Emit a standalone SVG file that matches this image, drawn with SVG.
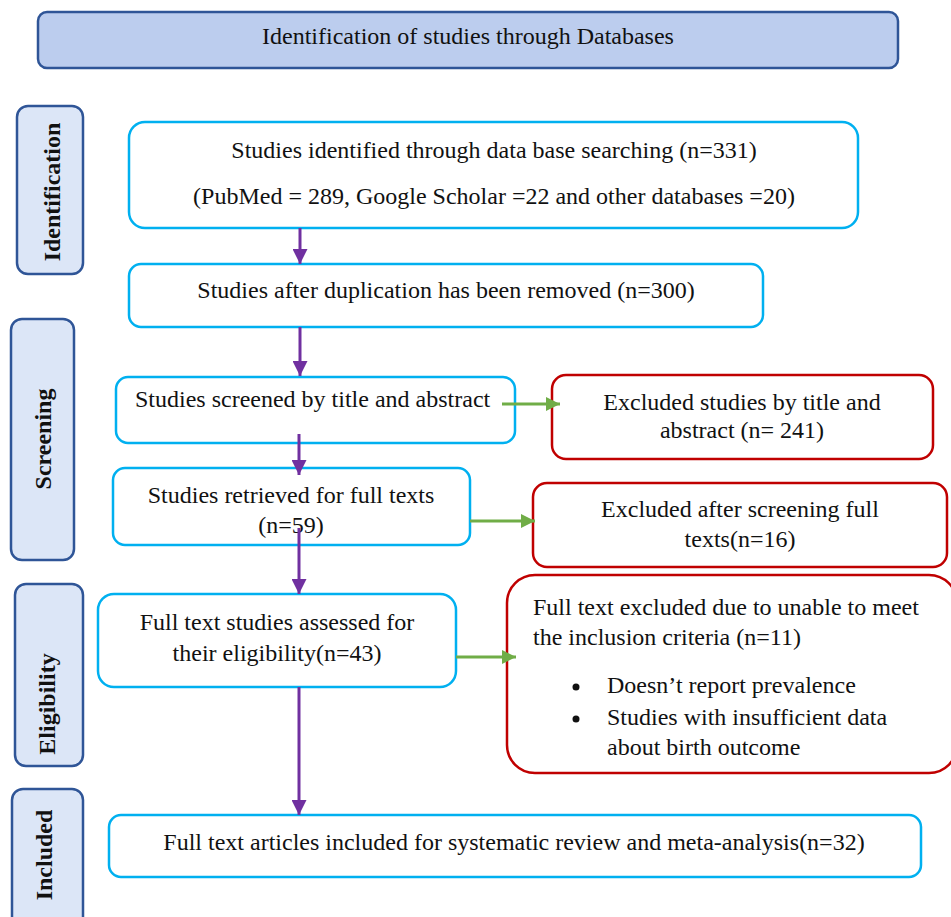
<svg xmlns="http://www.w3.org/2000/svg" width="951" height="917" viewBox="0 0 951 917">
<style>
text{font-family:"Liberation Serif","Times New Roman",serif;font-size:24px;fill:#111}
.c{text-anchor:middle}
.lbl{font-weight:bold;text-anchor:middle}
.side{fill:#dce6f7;stroke:#2f5597;stroke-width:2.5}
.blue{fill:#fff;stroke:#00b0f0;stroke-width:2.5}
.red{fill:#fff;stroke:#c00000;stroke-width:2.5}
.pa{stroke:#7030a0;stroke-width:3;fill:none}
.ga{stroke:#70ad47;stroke-width:3;fill:none}
</style>
<defs>
<marker id="mp" viewBox="0 0 10 10" refX="10" refY="5" markerWidth="15" markerHeight="15" markerUnits="userSpaceOnUse" orient="auto"><path d="M0,0 L10,5 L0,10 Z" fill="#7030a0"/></marker>
<marker id="mg" viewBox="0 0 10 10" refX="10" refY="5" markerWidth="14" markerHeight="14" markerUnits="userSpaceOnUse" orient="auto"><path d="M0,0 L10,5 L0,10 Z" fill="#70ad47"/></marker>
</defs>

<g id="header">
<rect x="38" y="12" width="860" height="56" rx="9" fill="#bccdee" stroke="#2f5597" stroke-width="2.5"/>
<text class="c" x="468" y="44">Identification of studies through Databases</text>
</g>

<g id="lbl-identification">
<rect class="side" x="17" y="106" width="66" height="168" rx="11"/>
<text class="lbl" transform="translate(60,192) rotate(-90)">Identification</text>
</g>
<g id="lbl-screening">
<rect class="side" x="11" y="319" width="63" height="241" rx="11"/>
<text class="lbl" transform="translate(51,439) rotate(-90)">Screening</text>
</g>
<g id="lbl-eligibility">
<rect class="side" x="15" y="584" width="68" height="182" rx="11"/>
<text class="lbl" transform="translate(55,704) rotate(-90)">Eligibility</text>
</g>
<g id="lbl-included">
<rect class="side" x="12" y="789" width="71" height="140" rx="11"/>
<text class="lbl" transform="translate(52,855) rotate(-90)">Included</text>
</g>

<g id="n-identified">
<rect class="blue" x="129" y="122" width="729" height="106" rx="16"/>
<text class="c" x="494" y="158">Studies identified through data base searching (n=331)</text>
<text class="c" x="494" y="204">(PubMed = 289, Google Scholar =22 and other databases =20)</text>
</g>
<g id="n-dedup">
<rect class="blue" x="129" y="264" width="634" height="63" rx="12"/>
<text class="c" x="446" y="298">Studies after duplication has been removed (n=300)</text>
</g>
<g id="n-screened">
<rect class="blue" x="116" y="377" width="399" height="66" rx="12"/>
<text x="135" y="407">Studies screened by title and abstract</text>
</g>
<g id="n-retrieved">
<rect class="blue" x="113" y="468" width="357" height="77" rx="12"/>
<text class="c" x="291" y="503">Studies retrieved for full texts</text>
<text class="c" x="291" y="533">(n=59)</text>
</g>
<g id="n-assessed">
<rect class="blue" x="98" y="594" width="358" height="93" rx="16"/>
<text class="c" x="277" y="630">Full text studies assessed for</text>
<text class="c" x="277" y="661">their eligibility(n=43)</text>
</g>
<g id="n-included">
<rect class="blue" x="109" y="815" width="812" height="62" rx="12"/>
<text class="c" x="514" y="850">Full text articles included for systematic review and meta-analysis(n=32)</text>
</g>

<g id="x-title">
<rect class="red" x="552" y="375" width="381" height="84" rx="14"/>
<text class="c" x="742" y="410">Excluded studies by title and</text>
<text class="c" x="742" y="438">abstract (n= 241)</text>
</g>
<g id="x-fulltext">
<rect class="red" x="533" y="483" width="414" height="84" rx="14"/>
<text class="c" x="740" y="517">Excluded after screening full</text>
<text class="c" x="740" y="547">texts(n=16)</text>
</g>
<g id="x-criteria">
<rect class="red" x="507" y="575" width="450" height="198" rx="28"/>
<text x="533" y="615">Full text excluded due to unable to meet</text>
<text x="533" y="645">the inclusion criteria (n=11)</text>
<circle cx="576" cy="687" r="3.5" fill="#111"/>
<text x="607" y="693">Doesn’t report prevalence</text>
<circle cx="576" cy="719" r="3.5" fill="#111"/>
<text x="607" y="725">Studies with insufficient data</text>
<text x="607" y="755">about birth outcome</text>
</g>

<g id="connectors">
<line class="pa" x1="300" y1="228" x2="300" y2="264" marker-end="url(#mp)"/>
<line class="pa" x1="300" y1="327" x2="300" y2="376" marker-end="url(#mp)"/>
<line class="pa" x1="299" y1="434" x2="299" y2="475" marker-end="url(#mp)"/>
<line class="pa" x1="299" y1="528" x2="299" y2="594" marker-end="url(#mp)"/>
<line class="pa" x1="299" y1="687" x2="299" y2="815" marker-end="url(#mp)"/>
<line class="ga" x1="502" y1="404" x2="560" y2="404" marker-end="url(#mg)"/>
<line class="ga" x1="470" y1="521" x2="535" y2="521" marker-end="url(#mg)"/>
<line class="ga" x1="456" y1="657" x2="516" y2="657" marker-end="url(#mg)"/>
</g>
</svg>
